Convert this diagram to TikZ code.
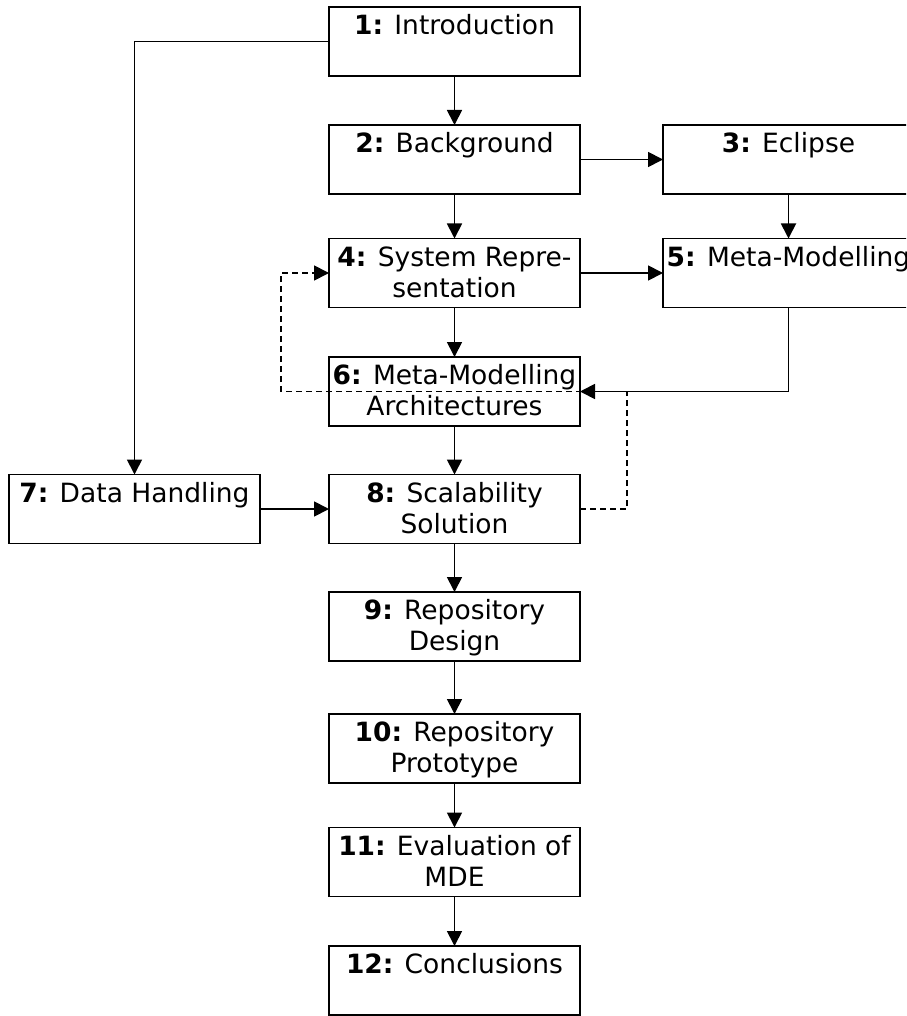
\documentclass[tikz,border=0pt]{standalone}
\usepackage{fontspec}
\setmainfont{DejaVu Sans}
\usetikzlibrary{arrows.meta}

% chapter box: fixed 251 x 69 frame, text set from the top
\newcommand{\chapbox}[2]{%
  \parbox[t][69pt][t]{251pt}{\centering\fontsize{26.5}{31}\selectfont
    \vspace*{6pt}\strut\textbf{#1:} #2\par}}

\begin{document}
\begin{tikzpicture}[x=1pt, y=-1pt,
  chap/.style={draw=black, line width=1.9pt, rectangle, inner sep=0pt, outer sep=0pt},
  flow/.style={draw=black, line width=1.8pt, -{Triangle[length=15pt, width=15pt]}},
  feedback/.style={flow, dash pattern=on 6pt off 4pt}]

\useasboundingbox (0,0) rectangle (906,1016);
\clip (0,0) rectangle (906,1016);
\fill[white] (0,0) rectangle (906,1016);

% chapters
\node[chap] (n1)  at (454.5, 41.5)  {\chapbox{1}{Introduction}};
\node[chap] (n2)  at (454.5, 159.5) {\chapbox{2}{Background}};
\node[chap] (n3)  at (788.5, 159.5) {\chapbox{3}{Eclipse}};
\node[chap] (n4)  at (454.5, 273)   {\chapbox{4}{System Repre-\\sentation}};
\node[chap] (n5)  at (788.5, 273)   {\chapbox{5}{Meta-Modelling}};
\node[chap] (n6)  at (454.5, 391.5) {\chapbox{6}{Meta-Modelling\\Architectures}};
\node[chap] (n7)  at (134.5, 509)   {\chapbox{7}{Data Handling}};
\node[chap] (n8)  at (454.5, 509)   {\chapbox{8}{Scalability\\Solution}};
\node[chap] (n9)  at (454.5, 626.5) {\chapbox{9}{Repository\\Design}};
\node[chap] (n10) at (454.5, 748.5) {\chapbox{10}{Repository\\Prototype}};
\node[chap] (n11) at (454.5, 862)   {\chapbox{11}{Evaluation of\\MDE}};
\node[chap] (n12) at (454.5, 980.5) {\chapbox{12}{Conclusions}};

% turning points of the routed connectors
\coordinate (introLeft) at (134.5, 41.5);
\coordinate (fbRight) at (627, 391.5);
\coordinate (fbLeft)  at (281, 391.5);

% reading order
\draw[flow] (n1.west) -- (introLeft) -- (n7.north);
\draw[flow] (n1.south) -- (n2.north);
\draw[flow] (n2.east) -- (n3.west);
\draw[flow] (n2.south) -- (n4.north);
\draw[flow] (n3.south) -- (n5.north);
\draw[flow] (n4.east) -- (n5.west);
\draw[flow] (n4.south) -- (n6.north);
\draw[flow] (n5.south) |- (n6.east);
\draw[flow] (n6.south) -- (n8.north);
\draw[flow] (n7.east) -- (n8.west);
\draw[flow] (n8.south) -- (n9.north);
\draw[flow] (n9.south) -- (n10.north);
\draw[flow] (n10.south) -- (n11.north);
\draw[flow] (n11.south) -- (n12.north);

% feedback loop
\draw[feedback] (n8.east) -| (fbRight) -- (fbLeft) |- (n4.west);

\end{tikzpicture}
\end{document}
